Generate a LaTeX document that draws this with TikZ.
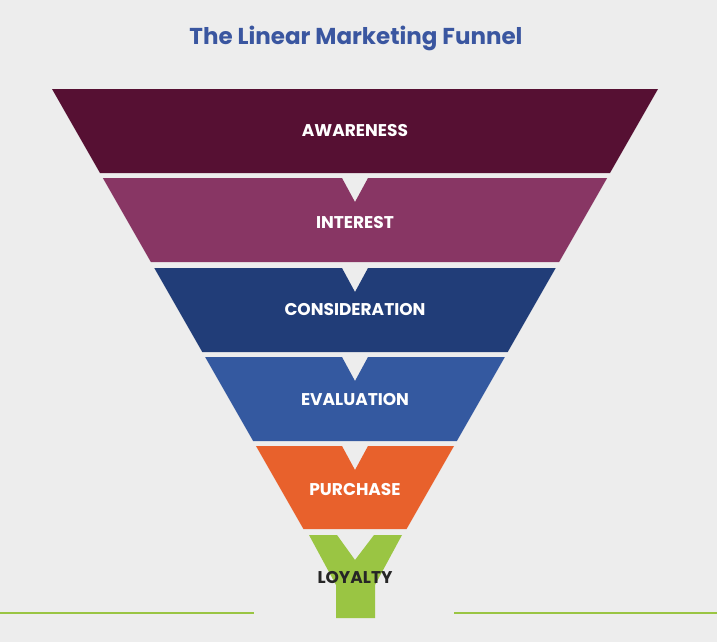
\documentclass[tikz,border=0pt]{standalone}
\usepackage{fontspec}
\setmainfont{Poppins}
\definecolor{bg}{HTML}{EDEDED}
\definecolor{cA}{HTML}{561033}
\definecolor{cI}{HTML}{883664}
\definecolor{cC}{HTML}{213D78}
\definecolor{cE}{HTML}{3459A0}
\definecolor{cP}{HTML}{E8612C}
\definecolor{cL}{HTML}{9AC543}
\definecolor{cT}{HTML}{3A56A0}
\begin{document}
\begin{tikzpicture}[x=1pt,y=-1pt,
  lbl/.style={font=\fontsize{17}{20}\selectfont\bfseries,text=white,inner sep=0pt},
  band/.style={draw=none}]
\fill[bg] (0,0) rectangle (717,642);
\useasboundingbox (0,0) rectangle (717,642);
\node[font=\fontsize{23}{28}\selectfont\bfseries,text=cT] (title) at (356,38) {The Linear Marketing Funnel};
% bands
\def\sl{0.5714}
\foreach \t/\b/\c/\n in {89/173/cA/0,178/262/cI/1,268/352/cC/1,357/441/cE/1,446/529/cP/1}{
  \pgfmathsetmacro{\lt}{52+\sl*(\t-89)}
  \pgfmathsetmacro{\lb}{52+\sl*(\b-89)}
  \pgfmathsetmacro{\rt}{710-\lt}
  \pgfmathsetmacro{\rb}{710-\lb}
  \ifnum\n=1
    \fill[\c] (\lt,\t) -- (342,\t) -- (355,\t+24) -- (368,\t) -- (\rt,\t) -- (\rb,\b) -- (\lb,\b) -- cycle;
  \else
    \fill[\c] (\lt,\t) -- (\rt,\t) -- (\rb,\b) -- (\lb,\b) -- cycle;
  \fi
}
\fill[cL] (309,535) -- (337,535) -- (355,560) -- (374,535) -- (402,535) -- (375,585) -- (375,618) -- (336,618) -- (336,585) -- cycle;
\draw[cL,line width=2pt] (0,613) -- (254,613) (454,613) -- (717,613);
\node[lbl] (aw) at (355,131) {AWARENESS};
\node[lbl] (in) at (355,223) {INTEREST};
\node[lbl] (co) at (355,310) {CONSIDERATION};
\node[lbl] (ev) at (355,400) {EVALUATION};
\node[lbl] (pu) at (355,490) {PURCHASE};
\node[lbl,text=black!85] (lo) at (355,578) {LOYALTY};
\end{tikzpicture}
\end{document}
